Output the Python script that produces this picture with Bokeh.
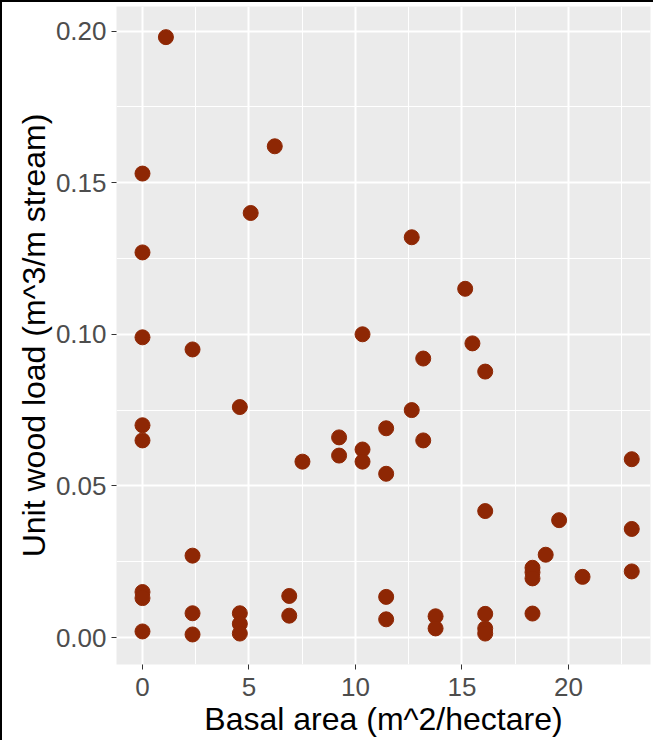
from bokeh.plotting import figure
from bokeh.models import FixedTicker, Range1d
from bokeh.embed import file_html
from bokeh.resources import INLINE

# Data
basal_area = [0, 0, 0, 0, 0, 0, 0, 0,
              1.1,
              2.35, 2.35, 2.35, 2.35,
              4.57, 4.57, 4.57, 4.57,
              5.08, 6.21,
              6.89, 6.89,
              7.51,
              9.23, 9.23,
              10.33, 10.33, 10.33,
              11.44, 11.44, 11.44, 11.44,
              12.64, 12.64,
              13.18, 13.18,
              13.76, 13.76,
              15.15, 15.49,
              16.09, 16.09, 16.09, 16.09, 16.09,
              18.31, 18.31, 18.31, 18.31,
              18.93, 19.56, 20.66,
              22.97, 22.97, 22.97]
wood_load = [0.153, 0.127, 0.099, 0.070, 0.065, 0.015, 0.013, 0.002,
             0.198,
             0.095, 0.027, 0.008, 0.001,
             0.076, 0.008, 0.0045, 0.0013,
             0.140, 0.162,
             0.0137, 0.0072,
             0.058,
             0.066, 0.060,
             0.100, 0.062, 0.058,
             0.069, 0.054, 0.0134, 0.006,
             0.132, 0.075,
             0.092, 0.065,
             0.007, 0.003,
             0.115, 0.097,
             0.0877, 0.0417, 0.0078, 0.003, 0.0013,
             0.023, 0.0215, 0.0195, 0.0079,
             0.0273, 0.0387, 0.020,
             0.0588, 0.0358, 0.0218]

x_ticks = [0, 5, 10, 15, 20]
y_ticks = [0.0, 0.05, 0.10, 0.15, 0.20]
y_tick_labels = ["0.00", "0.05", "0.10", "0.15", "0.20"]
x_title = "Basal area (m^2/hectare)"
y_title = "Unit wood load (m^3/m stream)"

x_step = x_ticks[1] - x_ticks[0]
y_step = y_ticks[1] - y_ticks[0]
x_minor = [t + x_step / 2 for t in x_ticks] + [x_ticks[0] - x_step / 2]
y_minor = [t + y_step / 2 for t in y_ticks[:-1]]

FONT = "Liberation Sans"

p = figure(width=653, height=740, output_backend="svg", toolbar_location=None,
           x_range=Range1d(-1.22, 23.85), y_range=Range1d(-0.0089, 0.2081),
           min_border_left=114, min_border_right=5, min_border_top=4,
           min_border_bottom=78)
p.styles = {"border-left": "2px solid black", "border-top": "2px solid black"}

p.background_fill_color = "#EBEBEB"
p.border_fill_color = "white"
p.outline_line_color = None

p.xaxis.ticker = FixedTicker(ticks=x_ticks)
p.yaxis.ticker = FixedTicker(ticks=y_ticks)
p.yaxis.major_label_overrides = {t: l for t, l in zip(y_ticks, y_tick_labels)}

p.xgrid.ticker = FixedTicker(ticks=x_ticks, minor_ticks=x_minor)
p.ygrid.ticker = FixedTicker(ticks=y_ticks, minor_ticks=y_minor)
for g in (p.xgrid, p.ygrid):
    g.grid_line_color = "white"
    g.grid_line_width = 2
    g.minor_grid_line_color = "white"
    g.minor_grid_line_width = 1

for ax in (p.xaxis, p.yaxis):
    ax.axis_line_color = None
    ax.major_tick_line_color = "#333333"
    ax.major_tick_line_width = 1
    ax.major_tick_out = 5
    ax.major_tick_in = 0
    ax.minor_tick_line_color = None
    ax.major_label_text_font = FONT
    ax.major_label_text_font_size = "26px"
    ax.major_label_text_color = "#4D4D4D"
    ax.axis_label_text_font = FONT
    ax.axis_label_text_font_size = "32px"
    ax.axis_label_text_font_style = "normal"
    ax.axis_label_text_color = "black"

p.xaxis.axis_label = x_title
p.yaxis.axis_label = y_title
p.xaxis.major_label_standoff = 8
p.yaxis.major_label_standoff = 5
p.xaxis.axis_label_standoff = 2
p.yaxis.axis_label_standoff = 1

p.scatter(basal_area, wood_load, size=15, fill_color="#8E2704",
          line_color="#8E2704")

open("out.html", "w").write(file_html(p, INLINE))
